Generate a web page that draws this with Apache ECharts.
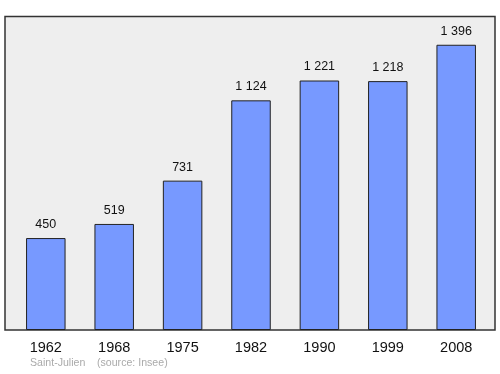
<!DOCTYPE html>
<html>
<head>
<meta charset="utf-8">
<script src="https://cdn.jsdelivr.net/npm/echarts@6/dist/echarts.min.js"></script>
<style>html,body{margin:0;padding:0;background:#fff;}#c{width:500px;height:374px;}</style>
</head>
<body>
<div id="c"></div>
<script>
const years = ['1962', '1968', '1975', '1982', '1990', '1999', '2008'];
const population = [450, 519, 731, 1124, 1221, 1218, 1396];
const placeName = 'Saint-Julien';
const sourceText = '(source: Insee)';

function fmt(v) {
  return String(v).replace(/\B(?=(\d{3})+(?!\d))/g, ' ');
}

const chart = echarts.init(document.getElementById('c'), null, {renderer: 'canvas'});
chart.setOption({
  animation: false,
  backgroundColor: '#ffffff',
  textStyle: {fontFamily: 'Liberation Sans, Arial, sans-serif'},
  graphic: [
    {type: 'rect', z: -10, silent: true,
     shape: {x: 5, y: 16.5, width: 490, height: 313.5},
     style: {fill: '#eeeeee', stroke: '#333333', lineWidth: 1.5}},
    {type: 'text', left: 30, top: 358, silent: true,
     style: {text: placeName, fill: '#aaaaaa', fontSize: 10.6, fontFamily: 'Liberation Sans, Arial, sans-serif'}},
    {type: 'text', left: 97, top: 358, silent: true,
     style: {text: sourceText, fill: '#aaaaaa', fontSize: 10.6, fontFamily: 'Liberation Sans, Arial, sans-serif'}}
  ],
  grid: {left: 11.6, right: 9.6, top: 23.5, bottom: 44, containLabel: false},
  xAxis: {
    type: 'category',
    data: years,
    axisLine: {show: false},
    axisTick: {show: false},
    axisLabel: {color: '#111', fontSize: 14.5, margin: 10}
  },
  yAxis: {
    type: 'value',
    min: 0,
    max: 1500,
    show: false,
    splitLine: {show: false}
  },
  series: [{
    type: 'bar',
    data: population,
    barWidth: 39.5,
    itemStyle: {color: '#7799ff', borderColor: '#222222', borderWidth: 1},
    label: {
      show: true,
      position: 'top',
      distance: 7,
      color: '#111',
      fontSize: 12.5,
      formatter: p => fmt(p.value)
    }
  }]
});
</script>
</body>
</html>
